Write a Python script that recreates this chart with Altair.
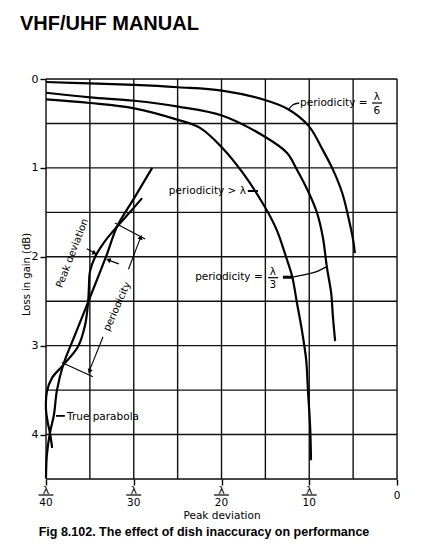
import altair as alt
import pandas as pd

# ---- grid / axes (x in grid units: 0 = lambda/40 ... 8 = 0) ----
x_grid = [0, 1, 2, 3, 4, 5, 6, 7, 8]
y_grid = [0, 0.5, 1, 1.5, 2, 2.5, 3, 3.5, 4, 4.5]
x_tick_pos = [0, 2, 4, 6]
x_tick_den = ["40", "30", "20", "10"]
x_zero_pos = [8]
y_ticks = [0, 1, 2, 3, 4]

# ---- curves (x grid units, loss dB) ----
a_x = [0.00, 1.00, 2.01, 3.01, 4.01, 4.99, 5.52, 5.99, 6.31, 6.54, 6.75, 6.88, 7.00, 7.04]
a_y = [0.034, 0.05, 0.067, 0.093, 0.13, 0.236, 0.34, 0.53, 0.80, 1.02, 1.28, 1.53, 1.81, 1.96]

b_x = [0.00, 1.00, 2.01, 3.01, 4.01, 4.99, 5.49, 5.72, 5.99, 6.18, 6.31, 6.40, 6.50, 6.54, 6.59]
b_y = [0.155, 0.206, 0.245, 0.31, 0.41, 0.65, 0.83, 1.02, 1.28, 1.51, 1.78, 2.11, 2.41, 2.68, 2.95]

c_x = [0.00, 1.00, 2.01, 3.01, 3.51, 4.01, 4.49, 4.99, 5.26, 5.47, 5.61, 5.72, 5.83, 5.93, 5.97, 6.02, 6.04]
c_y = [0.23, 0.27, 0.33, 0.46, 0.55, 0.77, 1.06, 1.44, 1.70, 2.00, 2.22, 2.52, 2.82, 3.16, 3.50, 3.91, 4.29]

p_x = [2.42, 2.01, 1.62, 1.39, 0.96, 0.66, 0.39, 0.25, 0.18, 0.09, 0.02, 0.0]
p_y = [1.00, 1.34, 1.66, 1.97, 2.51, 2.88, 3.22, 3.50, 3.78, 3.98, 4.23, 4.49]

w_x = [2.19, 1.91, 1.62, 1.32, 1.12, 1.00, 0.98, 0.96, 0.89, 0.73, 0.39, 0.14, 0.02, 0.0, 0.05, 0.09, 0.14]
w_y = [1.34, 1.50, 1.66, 1.84, 2.00, 2.17, 2.32, 2.51, 2.77, 3.01, 3.22, 3.36, 3.52, 3.72, 3.89, 3.98, 4.15]

# ---- annotations ----
lab_text = ["periodicity =", "periodicity > \u03bb", "periodicity =", "True parabola"]
lab_x = [5.79, 2.80, 3.40, 0.48]
lab_y = [0.27, 1.26, 2.23, 3.80]

frac_num_x = [7.54, 5.17]
frac_num_y = [0.20, 2.17]
frac_den = ["6", "3"]
frac_den_y = [0.36, 2.32]
frac_bar_x1 = [7.43, 5.06]
frac_bar_x2 = [7.66, 5.29]
frac_bar_y = [0.27, 2.235]

W = 351
H = 400

xs = alt.Scale(domain=[0, 8], nice=False, zero=False)
ys = alt.Scale(domain=[0, 4.5], reverse=True, nice=False, zero=False)
FONT = "DejaVu Sans"

x_axis = alt.Axis(
    values=[0, 2, 4, 6, 8], labels=False, grid=False, domain=False,
    tickSize=6, tickColor="black", tickWidth=1.4,
    title="Peak deviation", titleFont=FONT, titleFontSize=10.5, titleFontWeight="normal",
    titleColor="black", titleY=36, titleBaseline="middle")
y_axis = alt.Axis(
    values=y_ticks, grid=False, domain=False, tickSize=6, tickColor="black", tickWidth=1.4,
    labelFont=FONT, labelFontSize=11, labelColor="black", labelPadding=2,
    title="Loss in gain (dB)", titleFont=FONT, titleFontSize=10, titleFontWeight="normal",
    titleColor="black", titleX=-20, titleY=195, titleBaseline="middle")


def X(f="x"):
    return alt.X(f"{f}:Q", scale=xs, axis=x_axis)


def Y(f="y"):
    return alt.Y(f"{f}:Q", scale=ys, axis=y_axis)


def line(xv, yv, width=2.2, interp="catmull-rom"):
    df = pd.DataFrame({"x": xv, "y": yv, "i": range(len(xv))})
    return alt.Chart(df).mark_line(color="black", strokeWidth=width, interpolate=interp).encode(
        x=X(), y=Y(), order="i:Q")


# grid
vg = pd.DataFrame({"x": x_grid, "y0": [0] * len(x_grid), "y1": [4.5] * len(x_grid)})
hg = pd.DataFrame({"y": y_grid, "x0": [0] * len(y_grid), "x1": [8] * len(y_grid)})
vgrid = alt.Chart(vg).mark_rule(color="#111", strokeWidth=1.4).encode(
    x=X(), y=Y("y0"), y2="y1:Q")
hgrid = alt.Chart(hg).mark_rule(color="#111", strokeWidth=1.4).encode(
    y=Y(), x=X("x0"), x2="x1:Q")

# x tick fraction labels
xl = pd.DataFrame({"x": x_tick_pos, "den": x_tick_den,
                   "ly": [4.635] * 4, "dy": [4.77] * 4, "by": [4.68] * 4,
                   "bx1": [p - 0.17 for p in x_tick_pos], "bx2": [p + 0.17 for p in x_tick_pos]})
xl_lam = alt.Chart(xl).mark_text(font=FONT, fontSize=11, color="black").encode(
    x=X(), y=Y("ly"), text=alt.value("\u03bb"))
xl_den = alt.Chart(xl).mark_text(font=FONT, fontSize=10.5, color="black").encode(
    x=X(), y=Y("dy"), text="den:N")
xl_bar = alt.Chart(xl).mark_rule(color="black", strokeWidth=1.2).encode(
    x=X("bx1"), x2="bx2:Q", y=Y("by"))
xl_zero = alt.Chart(pd.DataFrame({"x": x_zero_pos, "y": [4.69]})).mark_text(
    font=FONT, fontSize=10.5, color="black").encode(x=X(), y=Y(), text=alt.value("0"))

# labels
labs = alt.Chart(pd.DataFrame({"x": lab_x, "y": lab_y, "t": lab_text})).mark_text(
    font=FONT, fontSize=10.5, color="black", align="left", baseline="middle").encode(
    x=X(), y=Y(), text="t:N")
fr_num = alt.Chart(pd.DataFrame({"x": frac_num_x, "y": frac_num_y})).mark_text(
    font=FONT, fontSize=10.5, color="black").encode(x=X(), y=Y(), text=alt.value("\u03bb"))
fr_den = alt.Chart(pd.DataFrame({"x": frac_num_x, "y": frac_den_y, "t": frac_den})).mark_text(
    font=FONT, fontSize=10.5, color="black").encode(x=X(), y=Y(), text="t:N")
fr_bar = alt.Chart(pd.DataFrame({"x1": frac_bar_x1, "x2": frac_bar_x2, "y": frac_bar_y})).mark_rule(
    color="black", strokeWidth=1.2).encode(x=X("x1"), x2="x2:Q", y=Y())

peak_lab = alt.Chart(pd.DataFrame({"x": [0.60], "y": [1.96], "t": ["Peak deviation"]})).mark_text(
    font=FONT, fontSize=10, color="black", angle=291).encode(x=X(), y=Y(), text="t:N")
per_lab = alt.Chart(pd.DataFrame({"x": [1.62], "y": [2.56], "t": ["periodicity"]})).mark_text(
    font=FONT, fontSize=10, color="black", angle=294).encode(x=X(), y=Y(), text="t:N")

# leaders and dimension lines
leaders = [
    line([5.77, 5.63, 5.52], [0.27, 0.29, 0.35], 1.3),                       # lambda/6 leader
    line([4.60, 4.83], [1.26, 1.26], 2.0, "linear"),                          # > lambda leader
    line([5.40, 5.62], [2.23, 2.23], 3.0, "linear"),                          # lambda/3 thick dash
    line([5.62, 5.90, 6.15, 6.40], [2.23, 2.20, 2.17, 2.11], 1.3),           # lambda/3 leader
    line([0.93, 1.10], [1.91, 1.955], 1.2, "linear"),                        # peak dev arrow left
    line([1.66, 1.44], [2.08, 2.04], 1.2, "linear"),                         # peak dev arrow right
    line([1.57, 2.26], [1.62, 1.80], 1.1, "linear"),                         # extension top
    line([0.36, 1.07], [3.19, 3.35], 1.1, "linear"),                         # extension bottom
    line([2.15, 1.88], [1.79, 2.14], 1.1, "linear"),                         # dimension top part
    line([1.30, 1.00], [2.90, 3.27], 1.1, "linear"),                         # dimension bottom part
    line([0.23, 0.43], [3.79, 3.79], 1.8, "linear"),                         # true parabola leader
]
heads = alt.Chart(pd.DataFrame({
    "x": [1.11, 1.42, 2.16, 0.99],
    "y": [1.96, 2.035, 1.78, 3.29],
    "a": [116, 290, 21, 202],
})).mark_point(shape="triangle-up", filled=True, color="black", size=28, opacity=1).encode(
    x=X(), y=Y(), angle=alt.Angle("a:Q", scale=None))

# title and caption
title = alt.Chart(pd.DataFrame({"t": ["VHF/UHF  MANUAL"]})).mark_text(
    font="Liberation Sans", fontSize=20, fontWeight="bold", color="black",
    align="left", baseline="alphabetic").encode(
    x=alt.value(-26), y=alt.value(-49), text="t:N")
caption = alt.Chart(pd.DataFrame({"t": ["Fig 8.102. The effect of dish inaccuracy on performance"]})).mark_text(
    font="Liberation Sans", fontSize=12.5, fontWeight="bold", color="black",
    align="center", baseline="middle").encode(
    x=alt.value(158), y=alt.value(453), text="t:N")

curves = [line(a_x, a_y), line(b_x, b_y), line(c_x, c_y), line(p_x, p_y), line(w_x, w_y)]

chart = alt.layer(
    vgrid, hgrid, *curves, *leaders, heads,
    labs, fr_num, fr_den, fr_bar, peak_lab, per_lab,
    xl_lam, xl_den, xl_bar, xl_zero, title, caption,
).properties(
    width=W, height=H,
    autosize=alt.AutoSizeParams(type="none"),
    padding={"left": 38, "top": 71, "right": 14, "bottom": 66},
).configure_view(stroke=None).configure(background="white")

chart.save("out.html", embed_options={"renderer": "svg", "actions": False})
